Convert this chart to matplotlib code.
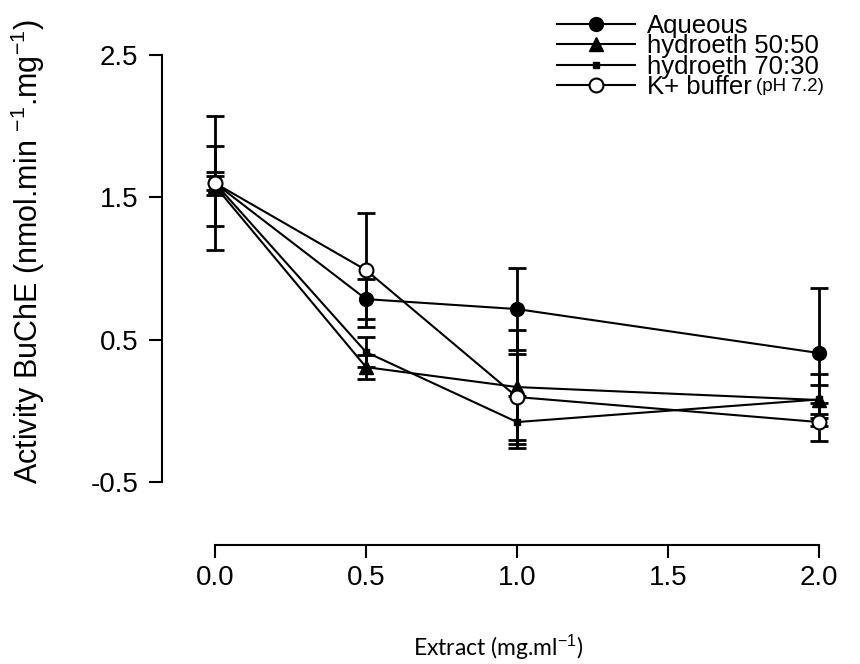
import matplotlib
matplotlib.use('Agg')
from matplotlib import pyplot as plt
from matplotlib.text import Annotation

plt.rcParams['font.family'] = ['Liberation Sans', 'DejaVu Sans']
plt.rcParams['mathtext.fontset'] = 'custom'
plt.rcParams['mathtext.rm'] = 'Liberation Sans'
plt.rcParams['mathtext.it'] = 'Liberation Sans:italic'
plt.rcParams['mathtext.bf'] = 'Liberation Sans:bold'

# extract concentration (mg/ml)
conc = [0.0, 0.5, 1.0, 2.0]

# BuChE activity, mean and error bar half-length
aqueous = [1.60, 0.785, 0.715, 0.406]
aqueous_err = [0.47, 0.14, 0.29, 0.457]
h5050 = [1.58, 0.307, 0.167, 0.076]
h5050_err = [0.28, 0.085, 0.40, 0.18]
h7030 = [1.60, 0.413, -0.079, 0.08]
h7030_err = [0.05, 0.105, 0.18, 0.10]
kbuf = [1.60, 0.989, 0.097, -0.079]
kbuf_err = [0.08, 0.40, 0.30, 0.134]

labels = ['Aqueous', 'hydroeth 50:50', 'hydroeth 70:30', 'K+ buffer']
yticks = [-0.5, 0.5, 1.5, 2.5]
xticks = [0.0, 0.5, 1.0, 1.5, 2.0]

fig = plt.figure(figsize=(8.6, 6.64), dpi=100)
ax = fig.add_axes([0.2149, 0.2527, 0.7726, 0.6858])

series = [
    (aqueous, aqueous_err, dict(marker='o', ms=10, mfc='black')),
    (h5050, h5050_err, dict(marker='^', ms=10, mfc='black')),
    (h7030, h7030_err, dict(marker='s', ms=5, mfc='black')),
    (kbuf, kbuf_err, dict(marker='o', ms=10, mfc='white', mew=1.5)),
]

handles = []
for (y, err, style), lab in zip(series, labels):
    ax.errorbar(conc, y, yerr=err, fmt='none', ecolor='black',
                elinewidth=2, capsize=6.8, capthick=2, zorder=2)
    h, = ax.plot(conc, y, color='black', lw=1.5, mec='black',
                 label=lab, zorder=3, **style)
    handles.append(h)

ax.set_xlim(-0.1, 2.1)
ax.set_ylim(-0.6, 2.6)
ax.set_xticks(xticks)
ax.set_xticklabels(['%.1f' % t for t in xticks])
ax.set_yticks(yticks)
ax.set_yticklabels(['%.1f' % t for t in yticks])

for s in ['top', 'right']:
    ax.spines[s].set_visible(False)
ax.spines['left'].set_position(('outward', 16.4))
ax.spines['left'].set_bounds(-0.5, 2.5)
ax.spines['bottom'].set_position(('outward', 35.1))
ax.spines['bottom'].set_bounds(0, 2)
for s in ['left', 'bottom']:
    ax.spines[s].set_linewidth(1.5)
ax.tick_params(length=9.5, width=1.5, labelsize=20)
ax.tick_params(axis='y', pad=7.5)
ax.tick_params(axis='x', pad=5)

fig.text(28 / 860, 1 - 252 / 664,
         'Activity BuChE (nmol.min $^{-1}$.mg$^{-1}$)',
         rotation=90, ha='center', va='center', fontsize=22)
fig.text(498 / 860, 1 - 647 / 664, 'Extract (mg.ml$^{-1}$)',
         ha='center', va='center', fontsize=16.5,
         family=['Lato', 'DejaVu Sans'])

leg = fig.legend(handles=handles, loc='upper left',
                 bbox_to_anchor=(557 / 860, 1 - 14 / 664),
                 frameon=False, fontsize=18.5, borderpad=0, borderaxespad=0,
                 handlelength=3.05, handletextpad=0.45, labelspacing=-0.14)
note = Annotation('(pH 7.2)', xy=(1, 0), xycoords=leg.get_texts()[3],
                  xytext=(3, 6), textcoords='offset points',
                  fontsize=13.5, va='baseline', ha='left', zorder=10)
fig.add_artist(note)

fig.savefig('out.png', dpi=100)
